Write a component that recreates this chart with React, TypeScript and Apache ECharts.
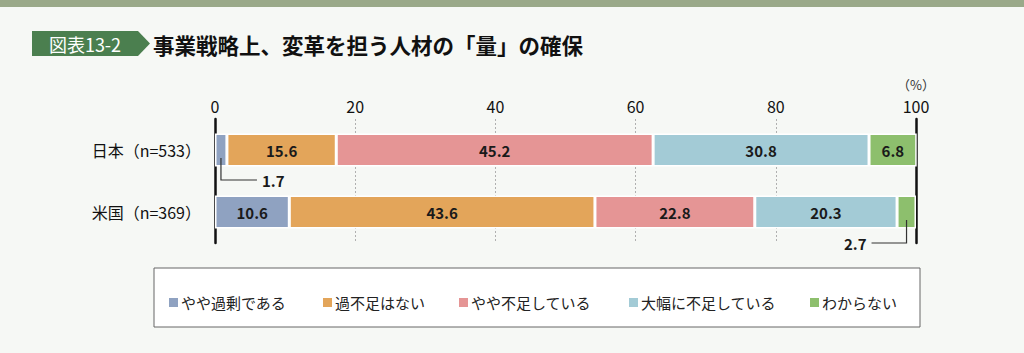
import React, { useEffect, useRef } from "react";
import * as echarts from "echarts";

const categories = ["日本（n=533）", "米国（n=369）"];
const seriesNames = ["やや過剰である", "過不足はない", "やや不足している", "大幅に不足している", "わからない"];
const japanValues = [1.7, 15.6, 45.2, 30.8, 6.8];
const usValues = [10.6, 43.6, 22.8, 20.3, 2.7];
const colors = ["#8fa2c1", "#e3a55a", "#e59595", "#a3cbd6", "#8dbf6d"];
const xTicks = [0, 20, 40, 60, 80, 100];
const legendLefts = [162, 316, 452, 622, 803];

const FONT = "'Noto Sans CJK JP', 'Noto Sans', sans-serif";

export default function App() {
  const ref = useRef<HTMLDivElement>(null);
  useEffect(() => {
    if (!ref.current) return;
    const chart = echarts.init(ref.current, null, { renderer: "svg" });
    const series = seriesNames.map((name, i) => ({
      name,
      type: "bar",
      stack: "total",
      barWidth: 33,
      data: [japanValues[i], usValues[i]],
      itemStyle: { color: colors[i], borderColor: "#ffffff", borderWidth: 1.5 },
      label: {
        show: true,
        position: "inside",
        color: "#1a1a1a",
        fontFamily: FONT,
        fontWeight: "bold",
        fontSize: 15,
        formatter: (p: any) => (p.value >= 5 ? p.value.toFixed(1) : ""),
      },
    }));
    const option: any = {
      animation: false,
      backgroundColor: "#f6f8f5",
      textStyle: { fontFamily: FONT },
      grid: { left: 215, right: 108, top: 119, height: 124 },
      xAxis: {
        type: "value",
        position: "top",
        min: xTicks[0],
        max: xTicks[xTicks.length - 1],
        interval: 20,
        axisLine: { show: false },
        axisTick: { show: false },
        axisLabel: { color: "#111", fontSize: 16, margin: 5, fontFamily: FONT },
        splitLine: {
          show: true,
          lineStyle: { color: "#b0b0b0", type: [2, 2], width: 1 },
        },
      },
      yAxis: [
        {
          type: "category",
          inverse: true,
          data: categories,
          axisLine: { show: true, lineStyle: { color: "#111", width: 2.5 } },
          axisTick: { show: false },
          axisLabel: { color: "#111", fontSize: 16, margin: 14, fontFamily: FONT },
        },
        {
          type: "category",
          inverse: true,
          position: "right",
          data: categories,
          axisLine: { show: true, lineStyle: { color: "#111", width: 2.5 } },
          axisTick: { show: false },
          axisLabel: { show: false },
        },
      ],
      legend: legendLefts.map((left, i) => ({
        left,
        top: 290,
        data: [seriesNames[i]],
        itemWidth: 11,
        itemHeight: 11,
        itemGap: 2,
        icon: "rect",
        textStyle: { color: "#222", fontSize: 15, fontFamily: FONT, padding: [0, 0, 0, -3] },
      })),
      series,
    };
    chart.setOption(option);

    const jp0 = chart.convertToPixel({ gridIndex: 0 }, [japanValues[0] / 2, 0]) as number[];
    const us4 = chart.convertToPixel(
      { gridIndex: 0 },
      [100 - usValues[4] / 2, 1]
    ) as number[];

    chart.setOption({
      graphic: [
        { type: "rect", shape: { x: 0, y: 0, width: 1024, height: 7 }, style: { fill: "#9aa989" } },
        {
          type: "polygon",
          shape: { points: [[32, 31], [138, 31], [150, 43.5], [138, 56], [32, 56]] },
          style: { fill: "#4b7f4f" },
        },
        {
          type: "text",
          x: 85,
          y: 44,
          style: {
            text: "図表13-2",
            fill: "#ffffff",
            fontSize: 18,
            fontFamily: FONT,
            align: "center",
            verticalAlign: "middle",
          },
        },
        {
          type: "text",
          x: 153,
          y: 44,
          style: {
            text: "事業戦略上、変革を担う人材の「量」の確保",
            fill: "#111",
            fontSize: 21.5,
            fontWeight: "bold",
            fontFamily: FONT,
            verticalAlign: "middle",
          },
        },
        {
          type: "text",
          x: 916,
          y: 84,
          style: { text: "（%）", fill: "#333", fontSize: 13, fontFamily: FONT, align: "center", verticalAlign: "middle" },
        },
        {
          type: "rect",
          shape: { x: 154, y: 268, width: 766, height: 59 },
          style: { fill: "#ffffff", stroke: "#666", lineWidth: 1 },
          z: -1,
        },
        {
          type: "polyline",
          shape: { points: [[jp0[0], jp0[1] + 8], [jp0[0], jp0[1] + 30], [jp0[0] + 36, jp0[1] + 30]] },
          style: { stroke: "#333", lineWidth: 1.2, fill: null },
          z: 10,
        },
        {
          type: "text",
          x: jp0[0] + 41,
          y: jp0[1] + 30,
          style: {
            text: japanValues[0].toFixed(1),
            fill: "#1a1a1a",
            fontSize: 15,
            fontWeight: "bold",
            fontFamily: FONT,
            verticalAlign: "middle",
          },
          z: 10,
        },
        {
          type: "polyline",
          shape: { points: [[us4[0], us4[1] + 8], [us4[0], us4[1] + 31], [us4[0] - 35, us4[1] + 31]] },
          style: { stroke: "#333", lineWidth: 1.2, fill: null },
          z: 10,
        },
        {
          type: "text",
          x: us4[0] - 40,
          y: us4[1] + 31,
          style: {
            text: usValues[4].toFixed(1),
            fill: "#1a1a1a",
            fontSize: 15,
            fontWeight: "bold",
            fontFamily: FONT,
            align: "right",
            verticalAlign: "middle",
          },
          z: 10,
        },
      ],
    });
    return () => chart.dispose();
  }, []);
  return <div ref={ref} style={{ width: 1024, height: 353, position: "absolute", left: 0, top: 0 }} />;
}
